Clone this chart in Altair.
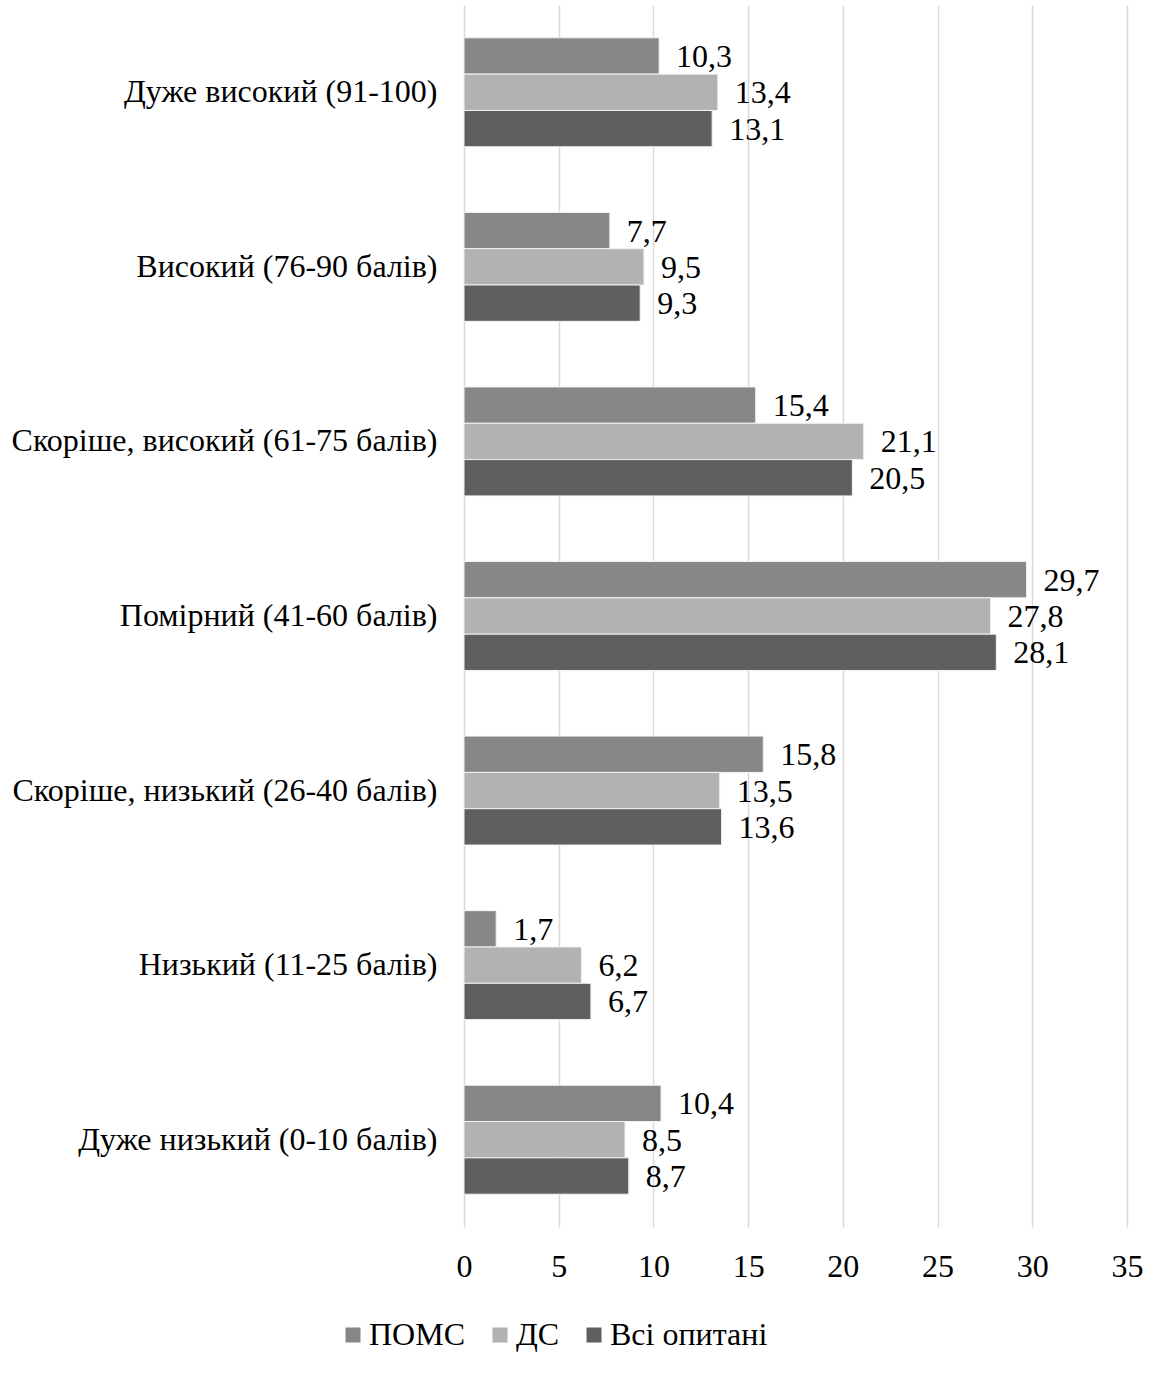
import altair as alt
import pandas as pd

categories = [
    "Дуже високий (91-100)",
    "Високий (76-90 балів)",
    "Скоріше, високий (61-75 балів)",
    "Помірний (41-60 балів)",
    "Скоріше, низький (26-40 балів)",
    "Низький (11-25 балів)",
    "Дуже низький (0-10 балів)",
]
series = ["ПОМС", "ДС", "Всі опитані"]
colors = ["#878787", "#b2b2b2", "#5f5f5f"]

poms = [10.3, 7.7, 15.4, 29.7, 15.8, 1.7, 10.4]
ds = [13.4, 9.5, 21.1, 27.8, 13.5, 6.2, 8.5]
all_resp = [13.1, 9.3, 20.5, 28.1, 13.6, 6.7, 8.7]

rows = []
for i, cat in enumerate(categories):
    for s, vals in zip(series, [poms, ds, all_resp]):
        rows.append({"cat": cat, "series": s, "value": vals[i]})
df = pd.DataFrame(rows)

FONT = "Liberation Serif"
FS = 32

x_enc = alt.X(
    "value:Q",
    scale=alt.Scale(domain=[0, 35], nice=False),
    axis=alt.Axis(
        values=[0, 5, 10, 15, 20, 25, 30, 35],
        title=None,
        domain=False,
        ticks=False,
        grid=True,
        gridColor="#d9d9d9",
        gridWidth=1.5,
        labelFont=FONT,
        labelFontSize=FS,
        labelColor="#000000",
        labelPadding=24,
        labelFlush=False,
    ),
)
y_enc = alt.Y(
    "cat:N",
    sort=categories,
    scale=alt.Scale(paddingInner=0.376, paddingOuter=0.188),
    axis=alt.Axis(
        title=None,
        domain=False,
        ticks=False,
        labelFont=FONT,
        labelFontSize=FS,
        labelColor="#000000",
        labelPadding=27,
        labelLimit=600,
    ),
)
y_off = alt.YOffset("series:N", sort=series)

bars = alt.Chart(df).mark_bar(stroke="#f2f2f2", strokeWidth=1).encode(
    x=x_enc,
    y=y_enc,
    yOffset=y_off,
    color=alt.Color(
        "series:N",
        sort=series,
        scale=alt.Scale(domain=series, range=colors),
        legend=alt.Legend(
            title=None,
            orient="none",
            direction="horizontal",
            legendX=-127,
            legendY=1314,
            symbolType="square",
            symbolSize=225,
            symbolStrokeWidth=0,
            labelFont=FONT,
            labelFontSize=FS,
            labelColor="#000000",
            labelOffset=0,
            columnPadding=18,
        ),
    ),
)

labels = alt.Chart(df).transform_calculate(
    txt="replace(format(datum.value, '.1f'), '.', ',')"
).mark_text(
    align="left", baseline="middle", dx=17, dy=1, font=FONT, fontSize=FS, color="#000000"
).encode(
    x="value:Q",
    y=alt.Y("cat:N", sort=categories),
    yOffset=y_off,
    text="txt:N",
)

chart = (
    alt.layer(bars, labels)
    .properties(
        width=663,
        height=1222,
        autosize=alt.AutoSizeParams(type="none"),
        padding={"left": 464, "top": 5, "right": 33, "bottom": 150},
        background="#ffffff",
    )
    .configure_view(stroke=None)
)

chart.save("out.html", embed_options={"renderer": "svg", "actions": False})
